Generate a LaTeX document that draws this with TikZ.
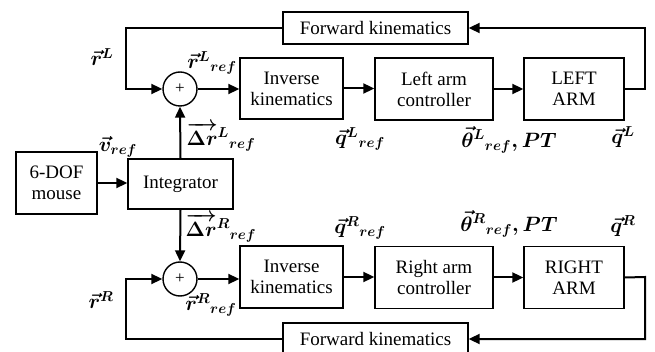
\documentclass[tikz,border=0pt]{standalone}
\usepackage{fontspec}
\usepackage{amsmath}
\setmainfont{Liberation Serif}
\usetikzlibrary{arrows.meta,calc}
\begin{document}
\begin{tikzpicture}[x=1pt,y=-1pt,
  blk/.style={draw,line width=1.4pt,inner sep=0pt,align=center,font=\fontsize{19}{21}\selectfont},
  sumnode/.style={draw,circle,line width=1.4pt,minimum size=34pt,inner sep=0pt,font=\fontsize{17}{17}\selectfont},
  conn/.style={line width=2pt,-{Triangle[length=11pt,width=10pt]}},
  lbl/.style={inner sep=0pt,font=\fontsize{21}{21}\selectfont}]
\clip (0,0) rectangle (655,352);
\fill[white] (0,0) rectangle (655,352);
% blocks
\node[blk,minimum width=81pt,minimum height=62pt] (mouse) at (56.5,183) {6-DOF\\mouse};
\node[blk,minimum width=105pt,minimum height=50pt] (integ) at (180.5,184) {Integrator};
\node[sumnode] (sumL) at (180,89) {+};
\node[sumnode] (sumR) at (180,279) {+};
\node[blk,minimum width=103pt,minimum height=61pt] (ikL) at (291.5,88.5) {Inverse\\kinematics};
\node[blk,minimum width=103pt,minimum height=62pt] (ikR) at (291.5,277) {Inverse\\kinematics};
\node[blk,minimum width=118pt,minimum height=62pt] (lac) at (434,89) {Left arm\\controller};
\node[blk,minimum width=118pt,minimum height=62pt] (rac) at (434,277.5) {Right arm\\controller};
\node[blk,minimum width=100pt,minimum height=62pt] (armL) at (574,89) {LEFT\\ARM};
\node[blk,minimum width=100pt,minimum height=62pt] (armR) at (574,277.5) {RIGHT\\ARM};
\node[blk,minimum width=185pt,minimum height=32pt] (fkL) at (375.5,28) {Forward kinematics};
\node[blk,minimum width=185pt,minimum height=32pt] (fkR) at (375.5,339) {Forward kinematics};
% connectors
\draw[conn] (mouse.east) -- (integ.west |- mouse.east);
\draw[conn] (integ.north) -- (sumL.south);
\draw[conn] (integ.south) -- (sumR.north);
\draw[conn] (sumL.east) -- (ikL.west |- sumL.east);
\draw[conn] (sumR.east) -- (ikR.west |- sumR.east);
\draw[conn] (ikL.east) -- (lac.west |- ikL.east);
\draw[conn] (ikR.east) -- (rac.west |- ikR.east);
\draw[conn] (lac.east) -- (armL.west);
\draw[conn] (rac.east) -- (armR.west);
\coordinate (cL) at (645,89);
\coordinate (cR) at (645,277);
\coordinate (dL) at (126,28);
\coordinate (dR) at (126,339);
\draw[conn] (armL.east) -- (cL) |- (fkL.east);
\draw[conn] (armR.east) -- (cR) |- (fkR.east);
\draw[conn] (fkL.west) -- (dL) |- (sumL.west);
\draw[conn] (fkR.west) -- (dR) |- (sumR.west);
% labels
\boldmath
\node[lbl] (l1) at (102,57) {$\vec{r}^{L}$};
\node[lbl] (l2) at (212,63) {$\vec{r}^{L}{}_{ref}$};
\node[lbl] (l3) at (221,137) {$\overrightarrow{\Delta r}^{L}{}_{ref}$};
\node[lbl] (l4) at (118,147) {$\vec{v}_{ref}$};
\node[lbl] (l5) at (360,139) {$\vec{q}^{L}{}_{ref}$};
\node[lbl] (l6) at (509,140) {$\vec{\theta}^{L}{}_{ref}, PT$};
\node[lbl] (l7) at (623,137) {$\vec{q}^{L}$};
\node[lbl] (l8) at (221,228) {$\overrightarrow{\Delta r}^{R}{}_{ref}$};
\node[lbl] (l9) at (211,305) {$\vec{r}^{R}{}_{ref}$};
\node[lbl] (l10) at (101,300) {$\vec{r}^{R}$};
\node[lbl] (l11) at (360,228) {$\vec{q}^{R}{}_{ref}$};
\node[lbl] (l12) at (509,224) {$\vec{\theta}^{R}{}_{ref}, PT$};
\node[lbl] (l13) at (623,226) {$\vec{q}^{R}$};
\end{tikzpicture}
\end{document}
